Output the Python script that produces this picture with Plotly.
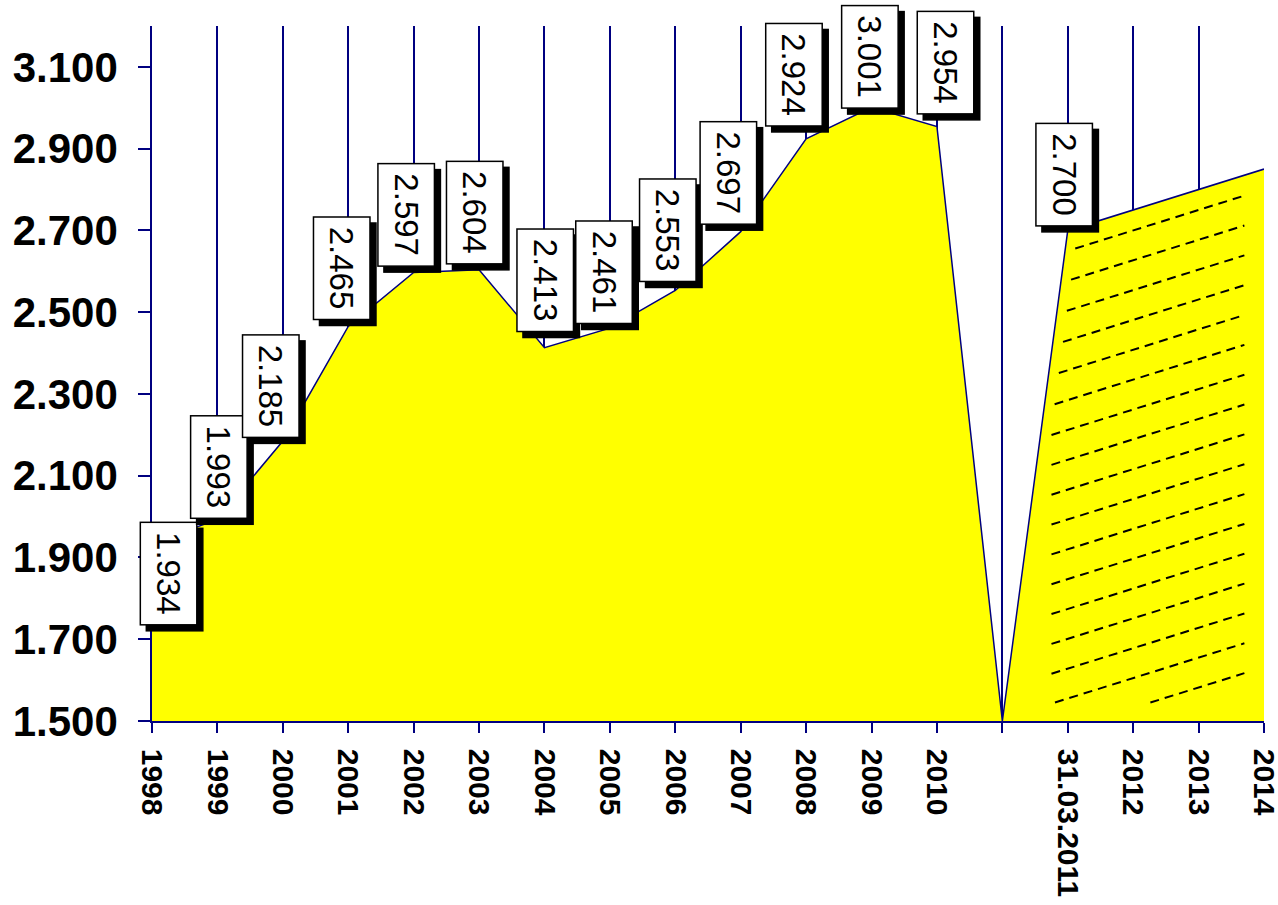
import numpy as np
import plotly.graph_objects as go

# ---- data ----
categories = ["1998", "1999", "2000", "2001", "2002", "2003", "2004", "2005", "2006",
              "2007", "2008", "2009", "2010", "", "31.03.2011", "2012", "2013", "2014"]
values = [1.934, 1.993, 2.185, 2.465, 2.597, 2.604, 2.413, 2.461, 2.553,
          2.697, 2.924, 3.001, 2.954, 1.500, 2.700, 2.750, 2.800, 2.850]
labelled = [True] * 13 + [False, True, False, False, False]
y_tickvals = [1.5, 1.7, 1.9, 2.1, 2.3, 2.5, 2.7, 2.9, 3.1]
y_ticktext = ["1.500", "1.700", "1.900", "2.100", "2.300", "2.500", "2.700", "2.900", "3.100"]

# label box offsets (pixels, centre of box relative to point)
label_dx = [17, 1, -12, -7, -7, -4, 1, -6, -7, -12, -12, -2, 9, 0, -4, 0, 0, 0]
label_dy = [-30, 52, 55, 58, 58, 57, 67, 56, 60, 59, 64, 51, 64, 0, 56, 0, 0, 0]

NAVY = "#000080"
YELLOW = "#FFFF00"
FONT = "Liberation Sans, Arial, sans-serif"

idx = list(range(len(categories)))
fig = go.Figure()

fig.add_trace(go.Scatter(
    x=idx, y=values, mode="lines", fill="tozeroy", fillcolor=YELLOW,
    line=dict(color=NAVY, width=1.5), hoverinfo="skip", showlegend=False))

# ---- hatching of the projection part (decorative dashed lines) ----
start = categories.index("31.03.2011")
px_ = np.array(idx[start:], dtype=float)
py_ = np.array(values[start:], dtype=float)
m, b = np.polyfit(px_, py_, 1)
gap_i = start - 1
left_slope = values[start] - values[gap_i]
xs = np.linspace(gap_i + 0.5, len(idx) - 1 - 0.3, 600)
for k in range(17):
    d = 0.05 + 0.073 * k
    ys = m * xs + b - d
    mask = (xs >= gap_i + 0.75) & (ys >= 1.545) & \
           (xs >= gap_i + (ys - values[gap_i]) / left_slope + 0.15)
    if mask.sum() < 2:
        continue
    xx = xs[mask]
    yy = ys[mask]
    fig.add_trace(go.Scatter(
        x=[xx[0], xx[-1]], y=[yy[0], yy[-1]], mode="lines",
        line=dict(color="black", width=2, dash="9px,6px"),
        hoverinfo="skip", showlegend=False))

# ---- value labels: shadow + box ----
for i, (v, show) in enumerate(zip(values, labelled)):
    if not show:
        continue
    txt = f"{v:.3f}"
    common = dict(x=i, y=v, xref="x", yref="y", text=txt, showarrow=False,
                  textangle=90, xanchor="center", yanchor="middle",
                  borderpad=9, borderwidth=1.5)
    fig.add_annotation(**common, xshift=label_dx[i] + 6, yshift=label_dy[i] - 6,
                       bgcolor="black", bordercolor="black",
                       font=dict(family=FONT, size=33, color="black"))
    fig.add_annotation(**common, xshift=label_dx[i], yshift=label_dy[i],
                       bgcolor="white", bordercolor="black",
                       font=dict(family=FONT, size=33, color="black"))

fig.update_xaxes(
    range=[0, len(idx) - 1], tickmode="array", tickvals=idx, ticktext=categories,
    tickangle=90, showgrid=True, gridcolor=NAVY, gridwidth=1.5,
    showline=True, linecolor=NAVY, linewidth=1.5,
    ticks="outside", ticklen=10, tickwidth=1.5, tickcolor=NAVY,
    zeroline=False, ticklabelstandoff=10, automargin=False,
    ticklabeloverflow="allow",
    tickfont=dict(family=FONT, size=30, color="black", weight="bold"))
fig.update_yaxes(
    range=[1.5, 3.2], tickmode="array", tickvals=y_tickvals, ticktext=y_ticktext,
    showgrid=False, zeroline=False,
    showline=True, linecolor=NAVY, linewidth=1.5,
    ticks="outside", ticklen=12, tickwidth=1.5, tickcolor=NAVY,
    ticklabelstandoff=12, automargin=False, ticklabeloverflow="allow",
    tickfont=dict(family=FONT, size=42, color="black", weight="bold"))

fig.update_layout(
    width=1278, height=905,
    margin=dict(l=152, r=14, t=26, b=184),
    paper_bgcolor="white", plot_bgcolor="white",
    showlegend=False)

fig.write_html(
    "out.html",
    config={"displayModeBar": False},
    post_script="document.body.style.margin='0';document.body.style.overflow='hidden';")
